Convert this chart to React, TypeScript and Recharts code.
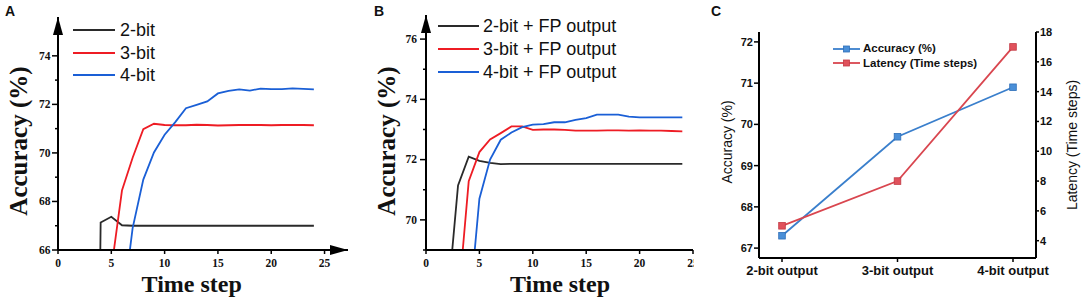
import { LineChart, Line, XAxis, YAxis, Legend } from 'recharts';

const SERIF = "'Liberation Serif', 'Times New Roman', serif";
const SANS = "'Liberation Sans', Arial, sans-serif";

// time steps shared by panels A and B
const timeSteps = [1, 2, 3, 4, 5, 6, 7, 8, 9, 10, 11, 12, 13, 14, 15, 16, 17, 18, 19, 20, 21, 22, 23, 24];

// panel A: quantized network accuracy (%)
const accA2bit = [null, null, 30, 67.13, 67.37, 67.02, 67.0, 67.0, 67.0, 67.0, 67.0, 67.0, 67.0, 67.0, 67.0, 67.0, 67.0, 67.0, 67.0, 67.0, 67.0, 67.0, 67.0, 67.0];
const accA3bit = [null, null, null, null, 65.2, 68.45, 69.8, 70.98, 71.2, 71.15, 71.14, 71.14, 71.16, 71.15, 71.13, 71.14, 71.15, 71.15, 71.15, 71.14, 71.15, 71.15, 71.15, 71.14];
const accA4bit = [null, null, null, null, null, 63.4, 66.9, 68.9, 70.02, 70.75, 71.27, 71.84, 71.98, 72.12, 72.45, 72.56, 72.62, 72.57, 72.65, 72.63, 72.63, 72.66, 72.64, 72.62];

// panel B: with full precision output layer
const accB2bit = [null, 67.2, 71.14, 72.1, 71.96, 71.89, 71.85, 71.86, 71.86, 71.86, 71.86, 71.86, 71.86, 71.86, 71.86, 71.86, 71.86, 71.86, 71.86, 71.86, 71.86, 71.86, 71.86, 71.86];
const accB3bit = [null, null, 67.2, 71.28, 72.25, 72.67, 72.88, 73.1, 73.1, 72.99, 73.0, 73.0, 72.99, 72.96, 72.96, 72.96, 72.97, 72.97, 72.96, 72.97, 72.96, 72.96, 72.95, 72.94];
const accB4bit = [null, null, null, 66.8, 70.7, 72.0, 72.66, 72.9, 73.08, 73.16, 73.18, 73.24, 73.24, 73.32, 73.38, 73.49, 73.49, 73.49, 73.43, 73.4, 73.4, 73.4, 73.4, 73.4];

const namesA = ['2-bit', '3-bit', '4-bit'];
const namesB = ['2-bit + FP output', '3-bit + FP output', '4-bit + FP output'];
const bitColors = ['#2a2a2a', '#ee1c24', '#1a5fd6'];

const ticksTime = [0, 5, 10, 15, 20, 25];
const ticksAccA = [66, 67, 68, 69, 70, 71, 72, 73, 74, 75];
const ticksAccB = [69, 70, 71, 72, 73, 74, 75, 76];

// panel C: output precision comparison
const outputCats = ['2-bit output', '3-bit output', '4-bit output'];
const accuracyC = [67.3, 69.7, 70.9];
const latencyC = [5, 8, 17];
const ticksAccC = [67, 68, 69, 70, 71, 72];
const ticksLatC = [4, 6, 8, 10, 12, 14, 16, 18];

const rowsA = timeSteps.map((t, i) => ({ t, b2: accA2bit[i], b3: accA3bit[i], b4: accA4bit[i] }));
const rowsB = timeSteps.map((t, i) => ({ t, b2: accB2bit[i], b3: accB3bit[i], b4: accB4bit[i] }));
const rowsC = outputCats.map((cat, i) => ({ cat, acc: accuracyC[i], lat: latencyC[i] }));

function SerifXTick({ x, y, payload }: any) {
  return (
    <g>
      <line x1={x} x2={x} y1={y} y2={y + 4} stroke="#000" strokeWidth={1.5} />
      <text x={x} y={y + 17} textAnchor="middle" fontFamily={SERIF} fontWeight={700} fontSize={11.5} fill="#111">
        {payload.value}
      </text>
    </g>
  );
}

function SerifYTick({ x, y, payload, gap }: any) {
  const major = payload.value % 2 === 0;
  return (
    <g>
      <line x1={x - (major ? 6 : 3)} x2={x} y1={y} y2={y} stroke="#000" strokeWidth={1.5} />
      {major && (
        <text x={x - gap} y={y + 3.8} textAnchor="end" fontFamily={SERIF} fontWeight={700} fontSize={11.5} fill="#111">
          {payload.value}
        </text>
      )}
    </g>
  );
}

function Title({ px, py, text, rotate, size, family, weight }: any) {
  return (
    <text
      x={px}
      y={py}
      textAnchor="middle"
      fontFamily={family}
      fontWeight={weight}
      fontSize={size}
      fill="#111"
      transform={rotate ? `rotate(-90, ${px}, ${py})` : undefined}
    >
      {text}
    </text>
  );
}

function LineLegend({ payload, lineLen, gap, fontSize, rowHeight }: any) {
  return (
    <div>
      {(payload ?? []).map((p: any) => (
        <div key={p.value} style={{ display: 'flex', alignItems: 'center', height: rowHeight }}>
          <svg width={lineLen} height={4} style={{ display: 'block' }}>
            <line x1={0} x2={lineLen} y1={2} y2={2} stroke={p.color} strokeWidth={2} />
          </svg>
          <span style={{ marginLeft: gap, fontSize, fontFamily: SANS, color: '#111', lineHeight: 1, whiteSpace: 'nowrap' }}>
            {p.value}
          </span>
        </div>
      ))}
    </div>
  );
}

const markerFills = ['#4a8fd8', '#e0525c'];
const markerStrokes = ['#2f6fb8', '#c23a44'];
const lineColorsC = ['#3a7fcc', '#d9464f'];
const namesC = ['Accuracy (%)', 'Latency (Time steps)'];

function MarkerLegend() {
  return (
    <div>
      {namesC.map((n, i) => (
        <div key={n} style={{ display: 'flex', alignItems: 'center', height: 14.3 }}>
          <svg width={27} height={8} style={{ display: 'block' }}>
            <line x1={0} x2={27} y1={4} y2={4} stroke={lineColorsC[i]} strokeWidth={1.8} />
            <rect x={10.5} y={1} width={6} height={6} fill={markerFills[i]} stroke={markerStrokes[i]} strokeWidth={0.8} />
          </svg>
          <span style={{ marginLeft: 3, fontSize: 11.5, fontWeight: 700, fontFamily: SANS, color: '#111', lineHeight: 1, whiteSpace: 'nowrap' }}>
            {n}
          </span>
        </div>
      ))}
    </div>
  );
}

const squareDot = (i: number) => (props: any) => (
  <rect
    key={`sq-${i}-${props.index}`}
    x={props.cx - 3.3}
    y={props.cy - 3.3}
    width={6.6}
    height={6.6}
    fill={markerFills[i]}
    stroke={markerStrokes[i]}
    strokeWidth={0.8}
  />
);

const axisStroke = { stroke: '#000', strokeWidth: 2 };
const letterStyle = { position: 'absolute' as const, fontFamily: SANS, fontWeight: 700, fontSize: 14, color: '#111' };

export default function App() {
  return (
    <div style={{ position: 'absolute', left: 0, top: 0, width: 1084, height: 304, background: '#fff', overflow: 'hidden' }}>
      <svg width={0} height={0} style={{ position: 'absolute' }}>
        <defs>
          <marker id="axisArrow" markerUnits="userSpaceOnUse" viewBox="0 0 18 10" markerWidth={18} markerHeight={10} refX={18} refY={5} orient="auto-start-reverse">
            <path d="M0,0 L18,5 L0,10 Z" fill="#000" />
          </marker>
        </defs>
      </svg>

      <div style={{ ...letterStyle, left: 5, top: 3 }}>A</div>
      <div style={{ ...letterStyle, left: 374, top: 3 }}>B</div>

      {/* Panel A */}
      <div style={{ position: 'absolute', left: 0, top: 0 }}>
        <LineChart width={360} height={304} data={rowsA} margin={{ top: 17, right: 12, bottom: 0, left: 0 }}>
          <XAxis
            dataKey="t"
            type="number"
            domain={[0, 27.2]}
            ticks={ticksTime}
            interval={0}
            height={54}
            tickSize={0}
            tickMargin={0}
            tickLine={false}
            tick={<SerifXTick />}
            axisLine={{ ...axisStroke, markerEnd: 'url(#axisArrow)' }}
            label={<Title px={191.7} py={291.5} text="Time step" size={24} family={SERIF} weight={700} />}
          />
          <YAxis
            type="number"
            domain={[66, 75.6]}
            allowDataOverflow
            ticks={ticksAccA}
            interval={0}
            width={58}
            tickSize={0}
            tickMargin={0}
            tickLine={false}
            tick={<SerifYTick gap={7.5} />}
            axisLine={{ ...axisStroke, markerStart: 'url(#axisArrow)' }}
            label={<Title px={27} py={141} text="Accuracy (%)" rotate size={25} family={SERIF} weight={700} />}
          />
          <Legend
            layout="vertical"
            align="center"
            verticalAlign="middle"
            width={200}
            wrapperStyle={{ left: 73, top: 18.75 }}
            content={<LineLegend lineLen={42} gap={5} fontSize={18} rowHeight={22.5} />}
          />
          {['b2', 'b3', 'b4'].map((k, i) => (
            <Line key={k} dataKey={k} name={namesA[i]} stroke={bitColors[i]} strokeWidth={1.8} dot={false} isAnimationActive={false} />
          ))}
        </LineChart>
      </div>

      {/* Panel B (cropped at its right edge like the source figure) */}
      <div style={{ position: 'absolute', left: 360, top: 0, width: 334, height: 304, overflow: 'hidden' }}>
        <LineChart width={340} height={304} data={rowsB} margin={{ top: 15, right: 7, bottom: 0, left: 0 }}>
          <XAxis
            dataKey="t"
            type="number"
            domain={[0, 25]}
            ticks={ticksTime}
            interval={0}
            height={54}
            tickSize={0}
            tickMargin={0}
            tickLine={false}
            tick={<SerifXTick />}
            axisLine={axisStroke}
            label={<Title px={200} py={291.5} text="Time step" size={24} family={SERIF} weight={700} />}
          />
          <YAxis
            type="number"
            domain={[69, 76.8]}
            allowDataOverflow
            ticks={ticksAccB}
            interval={0}
            width={66}
            tickSize={0}
            tickMargin={0}
            tickLine={false}
            tick={<SerifYTick gap={9} />}
            axisLine={{ ...axisStroke, markerStart: 'url(#axisArrow)' }}
            label={<Title px={35} py={141} text="Accuracy (%)" rotate size={25} family={SERIF} weight={700} />}
          />
          <Legend
            layout="vertical"
            align="center"
            verticalAlign="middle"
            width={260}
            wrapperStyle={{ left: 77.7, top: 14.6 }}
            content={<LineLegend lineLen={41.3} gap={4} fontSize={18} rowHeight={22.85} />}
          />
          {['b2', 'b3', 'b4'].map((k, i) => (
            <Line key={k} dataKey={k} name={namesB[i]} stroke={bitColors[i]} strokeWidth={1.8} dot={false} isAnimationActive={false} />
          ))}
        </LineChart>
      </div>

      <div style={{ ...letterStyle, left: 711, top: 3 }}>C</div>

      {/* Panel C */}
      <div style={{ position: 'absolute', left: 700, top: 0 }}>
        <LineChart width={384} height={304} data={rowsC} margin={{ top: 32, right: 0, bottom: 0, left: 0 }}>
          <XAxis
            dataKey="cat"
            padding={{ left: 23, right: 23 }}
            height={46}
            interval={0}
            tickSize={4}
            tickMargin={4}
            tickLine={{ stroke: '#000', strokeWidth: 1.5 }}
            tick={{ fontFamily: SANS, fontWeight: 700, fontSize: 13, fill: '#111' }}
            axisLine={axisStroke}
          />
          <XAxis xAxisId="top" dataKey="cat" orientation="top" height={0} padding={{ left: 23, right: 23 }} tick={false} tickLine={false} axisLine={axisStroke} />
          <YAxis
            yAxisId="left"
            domain={[66.76, 72.24]}
            ticks={ticksAccC}
            interval={0}
            width={59}
            tickSize={5}
            tickMargin={1}
            tickLine={{ stroke: '#000', strokeWidth: 1.5 }}
            tick={{ fontFamily: SANS, fontWeight: 700, fontSize: 11, fill: '#111' }}
            axisLine={axisStroke}
            label={<Title px={32} py={142} text="Accuracy (%)" rotate size={14} family={SANS} weight={400} />}
          />
          <YAxis
            yAxisId="right"
            orientation="right"
            domain={[2.84, 18]}
            ticks={ticksLatC}
            interval={0}
            width={48}
            tickSize={3}
            tickMargin={1}
            tickLine={{ stroke: '#000', strokeWidth: 1.5 }}
            tick={{ fontFamily: SANS, fontWeight: 700, fontSize: 11, fill: '#111' }}
            axisLine={axisStroke}
            label={<Title px={376.5} py={145} text="Latency (Time steps)" rotate size={14} family={SANS} weight={400} />}
          />
          <Legend
            layout="vertical"
            align="center"
            verticalAlign="middle"
            width={180}
            wrapperStyle={{ left: 133, top: 41.85 }}
            content={<MarkerLegend />}
          />
          <Line yAxisId="left" dataKey="acc" name={namesC[0]} stroke={lineColorsC[0]} strokeWidth={1.8} dot={squareDot(0)} isAnimationActive={false} />
          <Line yAxisId="right" dataKey="lat" name={namesC[1]} stroke={lineColorsC[1]} strokeWidth={1.8} dot={squareDot(1)} isAnimationActive={false} />
        </LineChart>
      </div>
    </div>
  );
}
